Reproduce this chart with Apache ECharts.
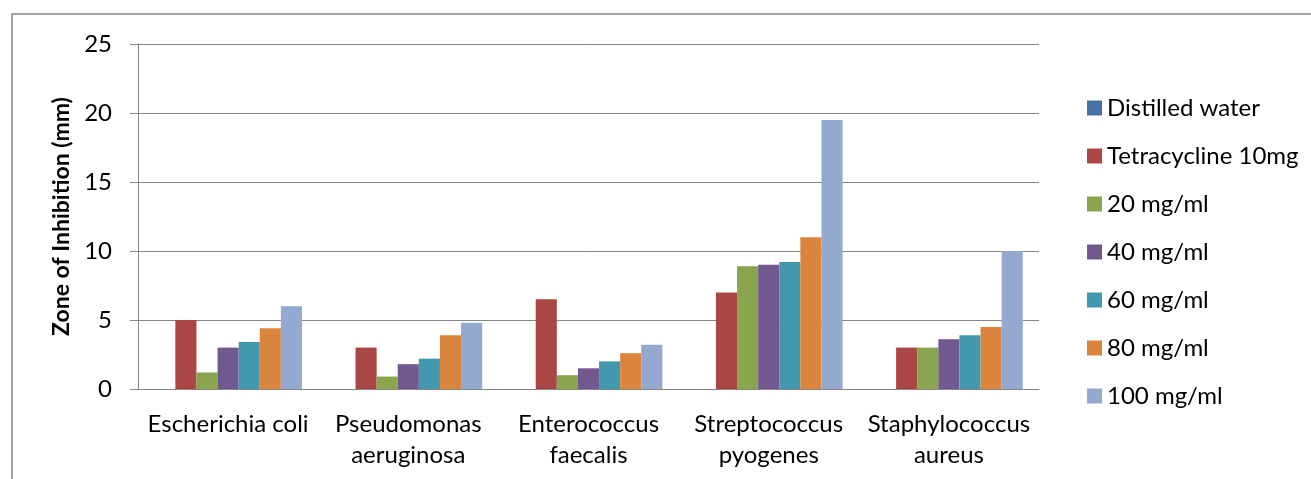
<!DOCTYPE html>
<html>
<head>
<meta charset="utf-8">
<script src="https://cdn.jsdelivr.net/npm/echarts@6/dist/echarts.min.js"></script>
<style>html,body{margin:0;padding:0;background:#fff}#c{width:1311px;height:479px}</style>
</head>
<body>
<div id="c"></div>
<script>
const categories = ['Escherichia coli', 'Pseudomonas\naeruginosa', 'Enterococcus\nfaecalis', 'Streptococcus\npyogenes', 'Staphylococcus\naureus'];
const seriesNames = ['Distilled water', 'Tetracycline 10mg', '20 mg/ml', '40 mg/ml', '60 mg/ml', '80 mg/ml', '100 mg/ml'];
const distilledWater = [0, 0, 0, 0, 0];
const tetracycline10mg = [5, 3, 6.5, 7, 3];
const mg20 = [1.2, 0.9, 1.0, 8.9, 3];
const mg40 = [3, 1.8, 1.5, 9, 3.6];
const mg60 = [3.4, 2.2, 2, 9.2, 3.9];
const mg80 = [4.4, 3.9, 2.6, 11, 4.5];
const mg100 = [6, 4.8, 3.2, 19.5, 10];
const yTicks = { min: 0, max: 25, interval: 5 };

const colors = ['#4572A7', '#AA4643', '#89A54E', '#71588F', '#4198AF', '#DB843D', '#93A9CF'];
const seriesData = [distilledWater, tetracycline10mg, mg20, mg40, mg60, mg80, mg100];
const FONT = 'Lato, "Open Sans", sans-serif';

const chart = echarts.init(document.getElementById('c'), null, { renderer: 'canvas' });
chart.setOption({
  animation: false,
  color: colors,
  textStyle: { fontFamily: FONT },
  graphic: [{
    type: 'rect', silent: true, z: -1,
    shape: { x: 12, y: 14, width: 1400, height: 600 },
    style: { fill: 'none', stroke: '#878787', lineWidth: 1.5 }
  }],
  grid: { left: 138, top: 44, right: 272, bottom: 90, containLabel: false },
  legend: {
    orient: 'vertical', left: 1082, top: 91,
    itemWidth: 15, itemHeight: 15, itemGap: 24,
    icon: 'rect',
    textStyle: { fontSize: 24, color: '#000', fontFamily: FONT, lineHeight: 24 },
    data: seriesNames
  },
  xAxis: {
    type: 'category',
    data: categories,
    axisLine: { lineStyle: { color: '#868686', width: 1 } },
    axisTick: { show: false },
    axisLabel: { fontSize: 24, color: '#000', lineHeight: 31, margin: 20, fontFamily: FONT, interval: 0 }
  },
  yAxis: {
    type: 'value',
    min: yTicks.min, max: yTicks.max, interval: yTicks.interval,
    name: 'Zone of Inhibition (mm)',
    nameLocation: 'middle', nameGap: 64, nameRotate: 90,
    nameTextStyle: { fontSize: 23, fontWeight: 'bold', color: '#000', fontFamily: FONT },
    axisLine: { show: true, lineStyle: { color: '#868686', width: 1 } },
    axisTick: { show: true, length: 8, lineStyle: { color: '#868686' } },
    axisLabel: { fontSize: 24, color: '#000', margin: 26, fontFamily: FONT },
    splitLine: { lineStyle: { color: '#868686', width: 1 } }
  },
  series: seriesNames.map((name, i) => ({
    name, type: 'bar', data: seriesData[i],
    barGap: '0%', barCategoryGap: '18%',
    itemStyle: { color: colors[i] }
  }))
});
</script>
</body>
</html>
